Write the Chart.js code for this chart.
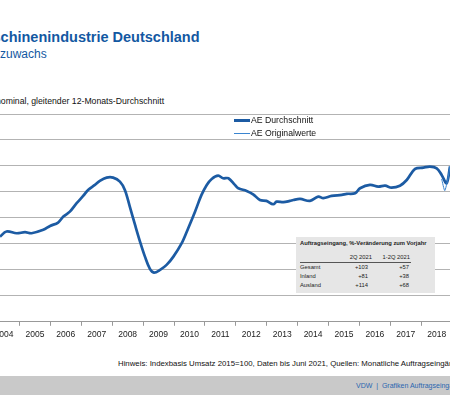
<!DOCTYPE html>
<html>
<head>
<meta charset="utf-8">
<script src="https://cdn.jsdelivr.net/npm/chart.js@4/dist/chart.umd.min.js"></script>
<style>
  html, body { margin: 0; padding: 0; background: #fff; }
  body { width: 450px; height: 395px; overflow: hidden; position: relative; font-family: "Liberation Sans", Arial, sans-serif; }
  .abs { position: absolute; white-space: nowrap; }
  #title { left: -7.5px; top: 29px; font-size: 14.5px; font-weight: bold; color: #1358a2; }
  #subtitle { left: 0; top: 47px; font-size: 12px; color: #1358a2; }
  #unit { left: -4px; top: 96px; font-size: 8.7px; color: #111; }
  #chartBox { left: 0; top: 110px; width: 450px; height: 234px; }
  .leg { left: 234px; font-size: 8.7px; color: #111; }
  .leg span { display: inline-block; width: 16px; vertical-align: middle; margin-right: 1px; }
  #tbl { left: 296px; top: 237px; width: 139px; height: 56px; background: #e6e6e6; font-size: 5.8px; color: #222; }
  #tbl div { position: absolute; white-space: nowrap; }
  #note { left: 118px; top: 359px; font-size: 7.8px; color: #111; }
  #bar { left: 0; top: 376px; width: 450px; height: 19px; background: #c9c9c9; }
  #bar div { position: absolute; left: 356px; top: 6px; font-size: 7px; color: #2a66b0; white-space: nowrap; }
</style>
</head>
<body>
<div class="abs" id="title">schinenindustrie Deutschland</div>
<div class="abs" id="subtitle">zuwachs</div>
<div class="abs" id="unit">nominal, gleitender 12-Monats-Durchschnitt</div>

<div class="abs" id="chartBox"><canvas id="lineChart"></canvas></div>

<div class="abs leg" style="top:115px"><span style="border-top:3px solid #1c5ba3"></span>AE Durchschnitt</div>
<div class="abs leg" style="top:128px"><span style="border-top:1px solid #3a85d0"></span>AE Originalwerte</div>

<div class="abs" id="tbl">
  <div style="left:4px;top:3px;font-weight:bold">Auftragseingang, %-Veränderung zum Vorjahr</div>
  <div style="right:63px;top:17px">2Q 2021</div>
  <div style="right:25px;top:17px">1-2Q 2021</div>
  <div style="left:4px;top:25px;width:111px;border-top:1px solid #555"></div>
  <div style="left:4px;top:27px">Gesamt</div>
  <div style="left:4px;top:36px">Inland</div>
  <div style="left:4px;top:45px">Ausland</div>
  <div style="right:67px;top:27px">+103</div>
  <div style="right:67px;top:36px">+81</div>
  <div style="right:67px;top:45px">+114</div>
  <div style="right:26px;top:27px">+57</div>
  <div style="right:26px;top:36px">+38</div>
  <div style="right:26px;top:45px">+68</div>
</div>

<div class="abs" id="note">Hinweis: Indexbasis Umsatz 2015=100, Daten bis Juni 2021, Quellen: Monatliche Auftragseingänge</div>
<div class="abs" id="bar"><div>VDW&nbsp; |&nbsp; Grafiken Auftragseingang</div></div>

<script>
// values (index, 12-month moving average)
const avgYears = [2004.37, 2004.58, 2004.91, 2005.18, 2005.39, 2005.77, 2005.99, 2006.25, 2006.42, 2006.63,
  2006.85, 2007.06, 2007.22, 2007.44, 2007.60, 2007.82, 2008.03, 2008.25, 2008.41, 2008.57,
  2008.74, 2008.90, 2009.06, 2009.22, 2009.35, 2009.55, 2009.76, 2009.98, 2010.25, 2010.46,
  2010.68, 2010.89, 2011.06, 2011.22, 2011.43, 2011.59, 2011.76, 2011.97, 2012.08, 2012.35,
  2012.56, 2012.78, 2012.99, 2013.21, 2013.32, 2013.54, 2013.75, 2013.86, 2014.08, 2014.40,
  2014.67, 2014.83, 2015.10, 2015.43, 2015.59, 2015.86, 2016.02, 2016.34, 2016.61, 2016.83,
  2017.04, 2017.31, 2017.53, 2017.80, 2018.07, 2018.28, 2018.50, 2018.66, 2018.82, 2018.93];
const avgValues = [65.6, 69.5, 68.2, 69.0, 68.2, 70.8, 73.8, 76.4, 81.0, 84.8,
  91.3, 96.9, 101.5, 105.4, 108.5, 111.0, 111.0, 107.9, 101.5, 88.7,
  74.6, 61.8, 50.2, 40.8, 37.9, 40.0, 43.8, 50.2, 60.5, 72.1,
  84.8, 97.7, 105.4, 110.0, 112.5, 110.5, 110.5, 105.4, 102.8, 100.8,
  98.2, 93.8, 93.1, 90.5, 92.5, 92.1, 93.1, 93.8, 94.6, 93.1,
  96.4, 95.2, 96.9, 97.7, 98.5, 99.0, 102.8, 105.4, 104.1, 104.8,
  103.3, 104.8, 109.2, 117.7, 118.7, 119.5, 118.2, 113.1, 106.7, 119.5];

const origYears = [2018.66, 2018.76, 2018.86, 2018.93];
const origValues = [110.0, 101.0, 110.0, 120.0];

const yearTicks = [2004, 2005, 2006, 2007, 2008, 2009, 2010, 2011, 2012, 2013, 2014, 2015, 2016, 2017, 2018, 2019];

const avgPoints = avgYears.map((x, i) => ({ x: x, y: avgValues[i] }));
const origPoints = origYears.map((x, i) => ({ x: x, y: origValues[i] }));

Chart.defaults.font.family = '"Liberation Sans", Arial, sans-serif';
Chart.defaults.font.size = 8.5;
Chart.defaults.color = '#222';

const ctx = document.getElementById('lineChart').getContext('2d');
window.myChart = new Chart(ctx, {
    type: 'line',
    data: {
        datasets: [{
            label: 'AE Originalwerte',
            data: origPoints,
            borderColor: '#3a85d0',
            borderWidth: 1,
            pointRadius: 0,
            tension: 0.2
        }, {
            label: 'AE Durchschnitt',
            data: avgPoints,
            borderColor: '#1c5ba3',
            borderWidth: 2.7,
            pointRadius: 0,
            tension: 0.35
        }]
    },
    options: {
        responsive: true,
        maintainAspectRatio: false,
        animation: false,
        layout: { padding: { top: 4, left: 0, right: 0, bottom: 0 } },
        plugins: {
            legend: { display: false },
            tooltip: { enabled: false }
        },
        scales: {
            x: {
                type: 'linear',
                min: 2004.37,
                max: 2018.93,
                afterBuildTicks: function (scale) {
                    scale.ticks = yearTicks.map(v => ({ value: v }));
                },
                afterFit: function (scale) {
                    // labels hang off both edges of the crop, don't reserve room for them
                    scale.paddingLeft = 0;
                    scale.paddingRight = 0;
                },
                ticks: {
                    autoSkip: false,
                    maxRotation: 0,
                    labelOffset: 15.45,
                    padding: 4,
                    callback: function (value) {
                        return String(value);
                    }
                },
                grid: {
                    drawOnChartArea: false,
                    tickLength: 4,
                    color: '#999'
                },
                border: { color: '#999', width: 1 }
            },
            y: {
                min: 0,
                max: 160,
                afterFit: function (scale) {
                    scale.width = 0;
                },
                ticks: { display: false, stepSize: 20 },
                grid: { drawTicks: false, color: '#b3b3b3', lineWidth: 1 },
                border: { display: false }
            }
        }
    }
});
</script>
</body>
</html>
